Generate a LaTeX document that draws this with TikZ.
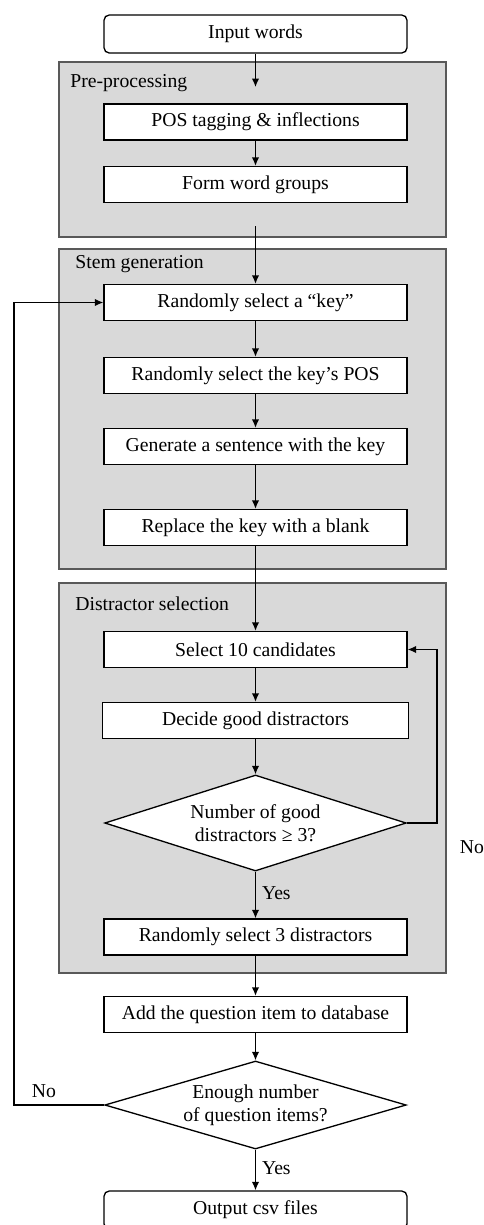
\documentclass[tikz,border=0pt]{standalone}
\usepackage{fontspec}
\setmainfont{Liberation Serif}
\usetikzlibrary{arrows.meta}
\usetikzlibrary{shapes.geometric}

\begin{document}
\begin{tikzpicture}[font=\fontsize{11.2}{13}\selectfont]
      \tikzset{stepbox/.style = {shape=rectangle,draw,fill=white,line width=0.75pt,minimum width=6.06cm,minimum height=0.72cm,inner sep=0pt}}
      \tikzset{term/.style = {stepbox,rounded corners=3pt,minimum height=0.76cm}}
      \tikzset{test/.style = {shape=diamond,draw,fill=white,line width=0.75pt,aspect=3.4,inner sep=0pt,minimum width=6.03cm,align=center}}
      \tikzset{group/.style = {shape=rectangle,draw=black!65,fill=black!15,line width=0.8pt,minimum width=7.74cm,inner sep=0pt}}
      \tikzset{grouplabel/.style = {anchor=west,inner sep=0pt}}
      \tikzset{edge/.style = {-,> = {Latex[length=1.7mm,width=1.5mm]},line width=0.75pt}}
      \useasboundingbox (0,0) rectangle (9.68,-24.5);

      % groups
      \node[group,minimum height=3.5cm] (pre) at (5.05, -2.99) {};
      \node[group,minimum height=6.4cm] (stem) at (5.05, -8.18) {};
      \node[group,minimum height=7.8cm] (dis) at (5.05, -15.56) {};
      \node[grouplabel] (prel) at (1.4, -1.66) {Pre-processing};
      \node[grouplabel] (steml) at (1.5, -5.28) {Stem generation};
      \node[grouplabel] (disl) at (1.5, -12.08) {Distractor selection};

      \node[term] (inp) at (5.11, -0.68) {Input words};
      \node[stepbox] (pos) at (5.11, -2.44) {POS tagging \& inflections};
      \node[stepbox] (form) at (5.11, -3.69) {Form word groups};

      \node[stepbox] (key) at (5.11, -6.05) {Randomly select a “key”};
      \node[stepbox] (keypos) at (5.11, -7.51) {Randomly select the key’s POS};
      \node[stepbox] (gen) at (5.11, -8.93) {Generate a sentence with the key};
      \node[stepbox] (repl) at (5.11, -10.55) {Replace the key with a blank};

      \node[stepbox] (sel10) at (5.11, -12.99) {Select 10 candidates};
      \node[stepbox,minimum width=6.12cm] (decide) at (5.11, -14.41) {Decide good distractors};
      \node[test,minimum height=1.92cm] (dia1) at (5.11, -16.46) {Number of good\\distractors ≥ 3?};
      \node[stepbox] (sel3) at (5.11, -18.74) {Randomly select 3 distractors};

      \node[stepbox] (add) at (5.11, -20.29) {Add the question item to database};
      \node[test,minimum height=1.76cm] (dia2) at (5.11, -22.1) {Enough number\\of question items?};
      \node[term] (out) at (5.11, -24.2) {Output csv files};

      \coordinate (a1) at (5.11, -1.74);
      \coordinate (a2) at (5.11, -4.52);
      \node (no1) at (9.44, -16.94) {No};
      \node (no2) at (0.88, -21.82) {No};

      \draw[edge,->] (inp) to (a1);
      \draw[edge,->] (pos) to (form);
      \draw[edge,->] (a2) to (key);
      \draw[edge,->] (key) to (keypos);
      \draw[edge,->] (keypos) to (gen);
      \draw[edge,->] (gen) to (repl);
      \draw[edge,->] (repl) to (sel10);
      \draw[edge,->] (sel10) to (decide);
      \draw[edge,->] (decide) to (dia1);
      \draw[edge,->] (dia1) to node[right,pos=0.45] (yes1) {Yes} (sel3);
      \draw[edge,->] (dia1.east) -- ++(0.6,0) |- (sel10);
      \draw[edge,->] (sel3) to (add);
      \draw[edge,->] (add) to (dia2);
      \draw[edge,->] (dia2) to node[right,pos=0.45] (yes2) {Yes} (out);
      \draw[edge,->] (dia2.west) -- ++(-1.8,0) |- (key);
    \end{tikzpicture}
\end{document}
